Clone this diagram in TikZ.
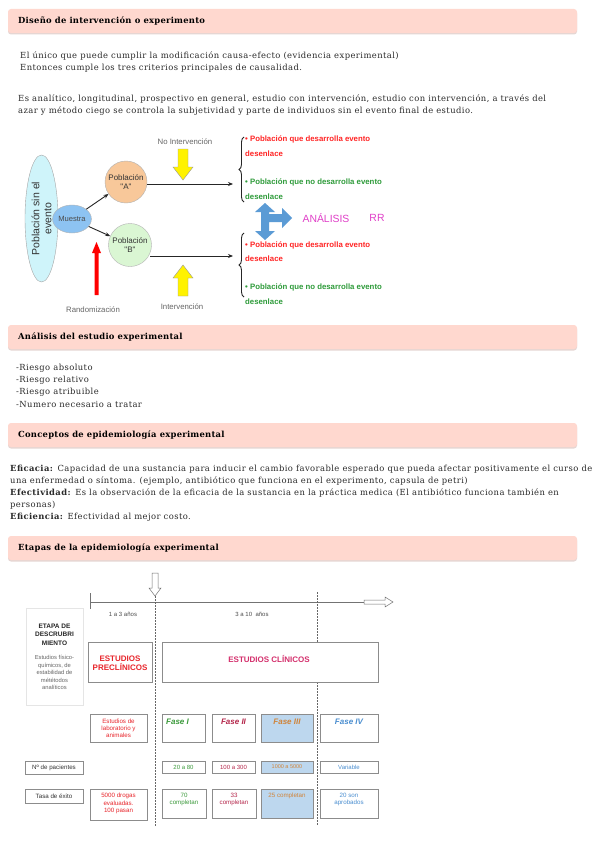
\documentclass[tikz,border=0pt]{standalone}
\usepackage{fontspec}
\setmainfont{DejaVu Serif}
\newfontfamily\bodyf[LetterSpace=5]{DejaVu Serif}
\newfontfamily\headf[LetterSpace=3]{DejaVu Serif}
\newfontfamily\sansf{Liberation Sans}
\usetikzlibrary{arrows.meta,decorations.pathreplacing,shapes.geometric}
\definecolor{hdr}{HTML}{FFD8CF}
\definecolor{hdrsh}{HTML}{E6D6D3}
\definecolor{txt}{HTML}{2A2A2A}
\definecolor{pred}{HTML}{FF2424}
\definecolor{pgreen}{HTML}{2E9B3A}
\definecolor{cyanell}{HTML}{CFF4FA}
\definecolor{muestrac}{HTML}{8DC3F2}
\definecolor{popa}{HTML}{F8C89A}
\definecolor{popb}{HTML}{DAF6D3}
\definecolor{crossb}{HTML}{5B9BD5}
\definecolor{mag}{HTML}{E040C8}
\definecolor{fa}{HTML}{3C9A3C}
\definecolor{fb}{HTML}{B5284C}
\definecolor{fc}{HTML}{D0843A}
\definecolor{fd}{HTML}{4A8ED0}
\definecolor{fcfill}{HTML}{BDD7EE}
\definecolor{prered}{HTML}{E8262C}
\definecolor{clin}{HTML}{D42F6C}
\definecolor{lbl}{HTML}{666666}
\tikzset{
  hdrbox/.style={fill=hdr, rounded corners=3pt, draw=none},
  hdrtext/.style={anchor=west, font=\headf\fontsize{8.4}{9}\selectfont\bfseries, text=black, inner sep=0pt},
  body/.style={anchor=west, font=\bodyf\fontsize{8.4}{9}\selectfont, text=txt, inner sep=0pt},
  lab/.style={font=\sansf\fontsize{7.8}{9}\selectfont, text=lbl, inner sep=0pt},
  poptext/.style={anchor=west, font=\sansf\bfseries\fontsize{7.8}{9}\selectfont, inner sep=0pt},
  conn/.style={-{Stealth[length=5pt,width=4pt]}, line width=0.9pt, draw=black!85},
  tbox/.style={draw=black!45, line width=0.8pt, fill=white},
  small/.style={font=\sansf\fontsize{6}{7.2}\selectfont, align=center, inner sep=0pt},
  dline/.style={draw=black!60, line width=0.5pt, dash pattern=on 1.5pt off 1.5pt},
}
\begin{document}
\begin{tikzpicture}[x=1pt,y=-1pt]
\useasboundingbox (0,0) rectangle (599,848);
\fill[white] (0,0) rectangle (599,848);

% ---------- headers ----------
\foreach \y/\t/\n in {9/{Diseño de intervención o experimento}/h1,
                      325/{Análisis del estudio experimental}/h2,
                      423/{Conceptos de epidemiología experimental}/h3,
                      536/{Etapas de la epidemiología experimental}/h4}{
  \fill[hdrsh, rounded corners=3pt] (8,\y+1.5) rectangle (577,\y+25.5);
  \fill[hdrbox] (8,\y) rectangle (577,\y+24);
  \node[hdrtext] (\n) at (18,\y+12) {\t};
}

% ---------- intro text ----------
\node[body] (t1) at (20,56) {El único que puede cumplir la modificación causa-efecto (evidencia experimental)};
\node[body] (t2) at (20,68) {Entonces cumple los tres criterios principales de causalidad.};
\node[body] (t3) at (18,99) {Es analítico, longitudinal, prospectivo en general, estudio con intervención, estudio con intervención, a través del};
\node[body] (t4) at (18,111) {azar y método ciego se controla la subjetividad y parte de individuos sin el evento final de estudio.};

% ---------- diagram ----------
\node[draw=black!35, fill=cyanell, ellipse, minimum width=33pt, minimum height=127pt, inner sep=0pt] (pob) at (41.5,218.5) {};
\node[rotate=90, align=center, font=\sansf\fontsize{10.5}{12}\selectfont, text=black!80] (pobt) at (pob.center) {Población sin el\\evento};
\node[draw=black!30, fill=muestrac, ellipse, minimum width=35pt, minimum height=28pt, inner sep=0pt, font=\sansf\fontsize{7.6}{9}\selectfont, text=black!70] (mu) at (72,219) {Muestra};
\node[draw=black!30, fill=popa, circle, minimum size=42pt, inner sep=0pt, align=center, font=\sansf\fontsize{8}{8.5}\selectfont, text=black!80] (pa) at (126,182) {Población\\"A"};
\node[draw=black!30, fill=popb, circle, minimum size=43pt, inner sep=0pt, align=center, font=\sansf\fontsize{8}{8.5}\selectfont, text=black!80] (pb) at (130,245) {Población\\"B"};
\draw[conn] (mu) -- (pa);
\draw[conn] (mu) -- (pb);
\coordinate (ea) at (233,184);
\coordinate (eb) at (233,256);
\draw[conn] (pa.east |- ea) -- (ea);
\draw[conn] (150,256) -- (eb);

% yellow arrows
\filldraw[fill=yellow, draw=black!40, line width=0.4pt]
  (178,149) -- (188,149) -- (188,167) -- (193,167) -- (183,180) -- (173,167) -- (178,167) -- cycle;
\filldraw[fill=yellow, draw=black!40, line width=0.4pt]
  (178,296) -- (188,296) -- (188,278) -- (193,278) -- (183,265) -- (173,278) -- (178,278) -- cycle;
% red arrow
\fill[red] (94.5,295) -- (98.5,295) -- (98.5,253) -- (101,253) -- (96.5,242) -- (92,253) -- (94.5,253) -- cycle;

\node[lab] (noint) at (185,142) {No Intervención};
\node[lab] (inter) at (182,307) {Intervención};
\node[lab] (rand) at (93,310) {Randomización};

% braces
\draw[decorate, decoration={brace, amplitude=5pt, aspect=0.5}, line width=0.9pt, draw=black!85] (244,202) -- (244,137);
\draw[decorate, decoration={brace, amplitude=5pt, aspect=0.5}, line width=0.9pt, draw=black!85] (244,297) -- (244,233);

\node[poptext, text=pred] (r1) at (245,139) {• Población que desarrolla evento};
\node[poptext, text=pred] (r1b) at (245,154) {desenlace};
\node[poptext, text=pgreen] (g1) at (245,182) {• Población que no desarrolla evento};
\node[poptext, text=pgreen] (g1b) at (245,197) {desenlace};
\node[poptext, text=pred] (r2) at (245,245) {• Población que desarrolla evento};
\node[poptext, text=pred] (r2b) at (245,259) {desenlace};
\node[poptext, text=pgreen] (g2) at (245,287) {• Población que no desarrolla evento};
\node[poptext, text=pgreen] (g2b) at (245,302) {desenlace};

% blue cross arrow
\fill[crossb] (265,203) -- (275,212) -- (269,212) -- (269,214) -- (282,214) -- (282,208) -- (292,218)
  -- (282,228) -- (282,222) -- (269,222) -- (269,231) -- (275,231) -- (265,240) -- (255,231)
  -- (261,231) -- (261,212) -- (255,212) -- cycle;
\node[font=\sansf\fontsize{10.4}{12}\selectfont, text=mag, inner sep=0pt] (ana) at (326,218) {ANÁLISIS};
\node[font=\sansf\fontsize{10.4}{12}\selectfont, text=mag, inner sep=0pt] (rr) at (377,218) {RR};

% ---------- análisis list ----------
\node[body] (l1) at (16,368) {-Riesgo absoluto};
\node[body] (l2) at (16,380) {-Riesgo relativo};
\node[body] (l3) at (16,392) {-Riesgo atribuible};
\node[body] (l4) at (16,404) {-Numero necesario a tratar};

% ---------- conceptos ----------
\node[body] (c1) at (10,469) {\textbf{Eficacia:} Capacidad de una sustancia para inducir el cambio favorable esperado que pueda afectar positivamente el curso de};
\node[body] (c2) at (10,481) {una enfermedad o síntoma. (ejemplo, antibiótico que funciona en el experimento, capsula de petri)};
\node[body] (c3) at (10,493) {\textbf{Efectividad:} Es la observación de la eficacia de la sustancia en la práctica medica (El antibiótico funciona también en};
\node[body] (c4) at (10,505) {personas)};
\node[body] (c5) at (10,517) {\textbf{Eficiencia:} Efectividad al mejor costo.};

% ---------- timeline ----------
\coordinate (tl0) at (90,602);
\coordinate (tl1) at (364,602);
\draw[black!55, line width=0.6pt] (tl0) -- (tl1);
\draw[black!55, line width=0.6pt] (90,593) -- (90,609);
\draw[black!55, line width=0.5pt, fill=white] (364,600) -- (385,600) -- (385,597) -- (393,602) -- (385,607) -- (385,604) -- (364,604) -- cycle;
\draw[black!55, line width=0.5pt, fill=white] (152,573) -- (158,573) -- (158,588) -- (161,588) -- (155,596) -- (149,588) -- (152,588) -- cycle;
\draw[dline] (155,596) -- (155,826);
\draw[dline] (317,592) -- (317,826);
\node[small, text=black!70] (y1) at (123,614) {1 a 3 años};
\node[small, text=black!70] (y2) at (252,614) {3 a 10 \ años};

% ETAPA box
\node[draw=black!10, line width=0.5pt, minimum width=57pt, minimum height=97pt, inner sep=0pt] (etapa) at (54.5,656.5) {};
\node[font=\sansf\bfseries\fontsize{6.5}{8.5}\selectfont, align=center, text=black!85, inner sep=0pt] (etapat) at (54.5,634.5) {ETAPA DE\\DESCRUBRI\\MIENTO};
\node[font=\sansf\fontsize{5.8}{7.6}\selectfont, align=center, text=black!60, inner sep=0pt] (etapas) at (54.5,672.5) {Estudios físico-\\químicos, de\\estabilidad de\\mététodos\\analíticos};

% preclinicos / clinicos
\node[tbox, minimum width=64pt, minimum height=40pt, inner sep=0pt] (pre) at (120,662) {};
\node[font=\sansf\bfseries\fontsize{8}{9.5}\selectfont, align=center, text=prered, inner sep=0pt] (pret) at (120,663) {ESTUDIOS\\PRECLÍNICOS};
\node[tbox, minimum width=216pt, minimum height=40pt, inner sep=0pt] (cli) at (270,662) {};
\node[font=\sansf\bfseries\fontsize{8}{9.5}\selectfont, text=clin, inner sep=0pt] (clit) at (269,659) {ESTUDIOS CLÍNICOS};

% fase row
\node[tbox, minimum width=57pt, minimum height=28pt, inner sep=0pt] (lab) at (118.5,728) {};
\node[small, font=\sansf\fontsize{6.2}{7.2}\selectfont, text=prered] (labt) at (118.5,728) {Estudios de\\laboratorio y\\animales};
\node[tbox, minimum width=43pt, minimum height=28pt, inner sep=0pt] (f1) at (183.5,728) {};
\node[tbox, minimum width=43pt, minimum height=28pt, inner sep=0pt] (f2) at (233.5,728) {};
\node[tbox, fill=fcfill, minimum width=52pt, minimum height=28pt, inner sep=0pt] (f3) at (287,728) {};
\node[tbox, minimum width=58pt, minimum height=28pt, inner sep=0pt] (f4) at (349,728) {};
\node[font=\sansf\bfseries\itshape\fontsize{8}{9}\selectfont, text=fa, anchor=west, inner sep=0pt] (f1t) at (166,721.5) {Fase I};
\node[font=\sansf\bfseries\itshape\fontsize{8}{9}\selectfont, text=fb, inner sep=0pt] (f2t) at (233.5,721.5) {Fase II};
\node[font=\sansf\bfseries\itshape\fontsize{8}{9}\selectfont, text=fc, inner sep=0pt] (f3t) at (287,721.5) {Fase III};
\node[font=\sansf\bfseries\itshape\fontsize{8}{9}\selectfont, text=fd, inner sep=0pt] (f4t) at (349,721.5) {Fase IV};

% pacientes row
\node[tbox, minimum width=58pt, minimum height=13pt, inner sep=0pt, small, font=\sansf\fontsize{6.2}{7.2}\selectfont, text=black!80] (np) at (54,767.5) {Nº de pacientes};
\node[tbox, minimum width=43pt, minimum height=12pt, inner sep=0pt, small, text=fa] (p1) at (183.5,767) {20 a 80};
\node[tbox, minimum width=43pt, minimum height=12pt, inner sep=0pt, small, text=fb] (p2) at (233.5,767) {100 a 300};
\node[tbox, fill=fcfill, minimum width=52pt, minimum height=12pt, inner sep=0pt, small, font=\sansf\fontsize{5.5}{7}\selectfont, text=fc] (p3) at (287,767) {1000 a 5000};
\node[tbox, minimum width=58pt, minimum height=12pt, inner sep=0pt, small, text=fd] (p4) at (349,767) {Variable};

% tasa row
\node[tbox, minimum width=58pt, minimum height=14pt, inner sep=0pt, small, font=\sansf\fontsize{6.2}{7.2}\selectfont, text=black!80] (te) at (54,796) {Tasa de éxito};
\node[tbox, minimum width=57pt, minimum height=31pt, inner sep=0pt] (s0) at (118.5,804.5) {};
\node[small, font=\sansf\fontsize{6.2}{7.6}\selectfont, text=prered] (s0t) at (118.5,803.5) {5000 drogas\\evaluadas.\\100 pasan};
\node[tbox, minimum width=44pt, minimum height=29pt, inner sep=0pt] (s1) at (184,803.5) {};
\node[small, font=\sansf\fontsize{6.2}{7.4}\selectfont, text=fa] (s1t) at (184,799.5) {70\\completan};
\node[tbox, minimum width=44pt, minimum height=29pt, inner sep=0pt] (s2) at (234,803.5) {};
\node[small, font=\sansf\fontsize{6.2}{7.4}\selectfont, text=fb] (s2t) at (234,799.5) {33\\completan};
\node[tbox, fill=fcfill, minimum width=52pt, minimum height=29pt, inner sep=0pt] (s3) at (287,803.5) {};
\node[small, font=\sansf\fontsize{6.2}{7.4}\selectfont, text=fc] (s3t) at (287,796) {25 completan};
\node[tbox, minimum width=58pt, minimum height=29pt, inner sep=0pt] (s4) at (349,803.5) {};
\node[small, font=\sansf\fontsize{6.2}{7.4}\selectfont, text=fd] (s4t) at (349,799.5) {20 son\\aprobados};
\end{tikzpicture}
\end{document}
